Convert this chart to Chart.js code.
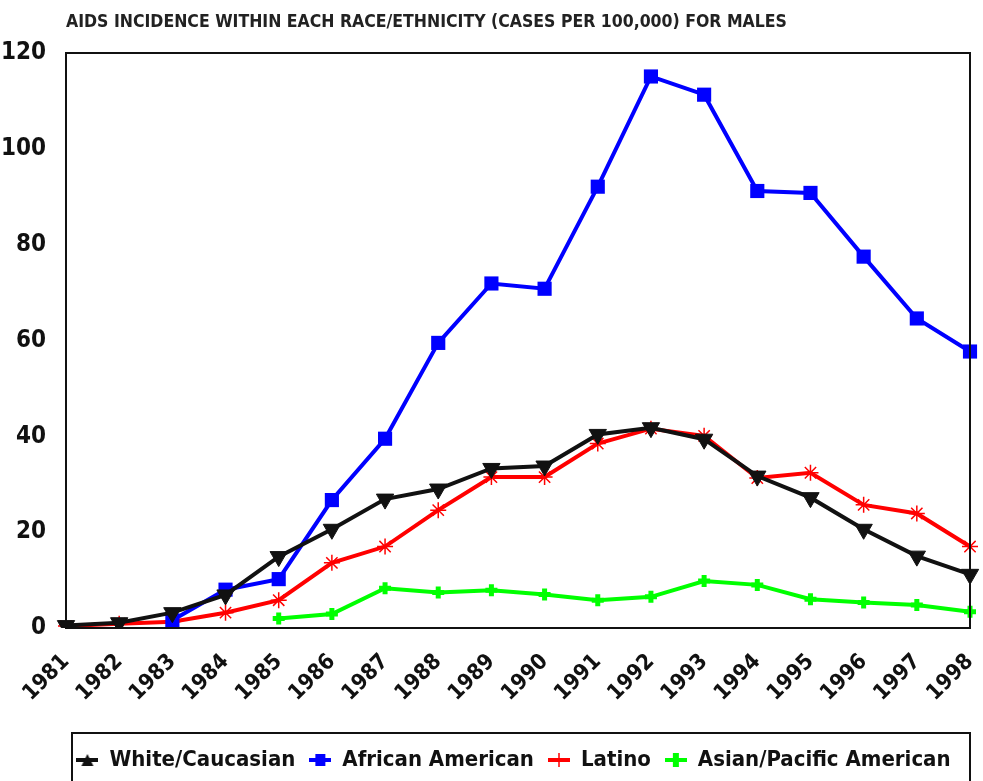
<!DOCTYPE html>
<html>
<head>
<meta charset="utf-8">
<title>AIDS incidence for males</title>
<script src="https://cdn.jsdelivr.net/npm/chart.js@4.4.1/dist/chart.umd.min.js"></script>
<style>
  html, body { margin: 0; padding: 0; background: #fff; }
  #wrap { width: 983px; height: 781px; }
</style>
</head>
<body>
<div id="wrap"><canvas id="aidsChart" width="983" height="781"></canvas></div>
<script>
// Years
const years = ['1981', '1982', '1983', '1984', '1985', '1986', '1987', '1988', '1989',
    '1990', '1991', '1992', '1993', '1994', '1995', '1996', '1997', '1998'];

// Cases per 100,000
const white = [0.5, 1.1, 3.2, 6.9, 14.9, 20.6, 26.9, 29.0, 33.3, 33.8, 40.4, 41.8, 39.4, 31.7, 27.2, 20.6, 15.0, 11.2];
const africanAmerican = [null, null, 1.6, 8.0, 10.2, 26.7, 39.5, 59.5, 71.9, 70.8, 92.1, 115.1, 111.3, 91.2, 90.8, 77.5, 64.6, 57.7];
const latino = [0.4, 0.9, 1.3, 3.2, 5.8, 13.6, 17.0, 24.6, 31.5, 31.5, 38.5, 41.6, 40.1, 31.3, 32.4, 25.7, 23.9, 17.0];
const asianPacific = [null, null, null, null, 2.0, 2.9, 8.3, 7.4, 7.9, 7.0, 5.8, 6.5, 9.8, 9.0, 6.0, 5.3, 4.8, 3.4];

const yTicks = { min: 0, max: 120, step: 20 };

const fontFamily = "'Liberation Sans Narrow', 'DejaVu Sans Condensed', 'Arial Narrow', sans-serif";

// small legend icons: line segment with the marker in the middle
function legendIcon(color, style) {
    const c = document.createElement('canvas');
    c.width = 22; c.height = 20;
    const g = c.getContext('2d');
    g.strokeStyle = color; g.fillStyle = color;
    g.lineWidth = 4;
    g.beginPath(); g.moveTo(0, 10); g.lineTo(22, 10); g.stroke();
    g.beginPath();
    if (style === 'tri') {
        g.moveTo(5, 4); g.lineTo(17, 4); g.lineTo(11, 16); g.closePath(); g.fill();
    } else if (style === 'rect') {
        g.fillRect(6, 4, 10, 12);
    } else if (style === 'cross') {
        g.fillRect(8, 3, 6, 14);
    } else if (style === 'star') {
        g.lineWidth = 1.5;
        g.moveTo(11, 3); g.lineTo(11, 17); g.stroke();
    }
    return c;
}

const icons = [
    legendIcon('#111111', 'tri'),
    legendIcon('#0000ff', 'rect'),
    legendIcon('#ff0000', 'star'),
    legendIcon('#00ff00', 'cross')
];

// border around the plot area and legend, plus shifting title/legend
const framePlugin = {
    id: 'frame',
    afterLayout(chart) {
        const area = chart.chartArea;
        chart.titleBlock.left = area.left;
        chart.legend.left = 44;
        chart.legend.right = 983;
    },
    afterDraw(chart) {
        const ctx = chart.ctx;
        const a = chart.chartArea;
        const lg = chart.legend;
        ctx.save();
        ctx.strokeStyle = '#111';
        ctx.lineWidth = 2;
        ctx.strokeRect(a.left, a.top, a.right - a.left, a.bottom - a.top);
        ctx.strokeRect(72, lg.top - 2, 898, 80);
        ctx.restore();
    }
};

const ctx = document.getElementById('aidsChart').getContext('2d');
new Chart(ctx, {
    type: 'line',
    data: {
        labels: years,
        datasets: [
            {
                label: 'White/Caucasian',
                data: white,
                borderColor: '#111111',
                backgroundColor: '#111111',
                borderWidth: 4,
                pointStyle: 'triangle',
                pointRotation: 180,
                pointRadius: 10,
                pointBorderWidth: 1
            },
            {
                label: 'African American',
                data: africanAmerican,
                borderColor: '#0000ff',
                backgroundColor: '#0000ff',
                borderWidth: 4,
                pointStyle: 'rect',
                pointRadius: 10,
                pointBorderWidth: 0
            },
            {
                label: 'Latino',
                data: latino,
                borderColor: '#ff0000',
                backgroundColor: '#ff0000',
                borderWidth: 4,
                pointStyle: 'star',
                pointRadius: 8,
                pointBorderWidth: 1.5
            },
            {
                label: 'Asian/Pacific American',
                data: asianPacific,
                borderColor: '#00ff00',
                backgroundColor: '#00ff00',
                borderWidth: 4,
                pointStyle: 'cross',
                pointRadius: 6,
                pointBorderWidth: 5
            }
        ]
    },
    options: {
        responsive: false,
        animation: false,
        devicePixelRatio: 1,
        layout: { padding: { left: 0, right: 0, top: 0, bottom: 0 } },
        plugins: {
            title: {
                display: true,
                text: 'AIDS INCIDENCE WITHIN EACH RACE/ETHNICITY (CASES PER 100,000) FOR MALES',
                align: 'start',
                color: '#222',
                font: { family: fontFamily, size: 17.5, weight: 'bold' },
                padding: { top: 12, bottom: 20 }
            },
            legend: {
                position: 'bottom',
                labels: {
                    color: '#111',
                    font: { family: fontFamily, size: 22, weight: 'bold' },
                    usePointStyle: true,
                    pointStyleWidth: 22,
                    padding: 14,
                    generateLabels(chart) {
                        const items = Chart.defaults.plugins.legend.labels.generateLabels(chart);
                        items.forEach((it, i) => { it.pointStyle = icons[i]; });
                        return items;
                    }
                }
            },
            tooltip: { enabled: false }
        },
        scales: {
            x: {
                offset: false,
                grid: { display: false },
                border: { color: '#111', width: 2 },
                afterFit(scale) {
                    scale.paddingLeft = 0;
                    scale.paddingRight = 13;
                    scale.height = 107;
                },
                ticks: {
                    color: '#111',
                    font: { family: fontFamily, size: 22, weight: 'bold' },
                    maxRotation: 45,
                    minRotation: 45,
                    autoSkip: false,
                    padding: 13
                }
            },
            y: {
                min: yTicks.min,
                max: yTicks.max,
                grid: { display: false },
                border: { color: '#111', width: 2 },
                afterFit(scale) {
                    scale.width = 66;
                },
                ticks: {
                    stepSize: yTicks.step,
                    color: '#111',
                    font: { family: fontFamily, size: 24, weight: 'bold' },
                    padding: 12
                }
            }
        }
    },
    plugins: [framePlugin]
});
</script>
</body>
</html>
